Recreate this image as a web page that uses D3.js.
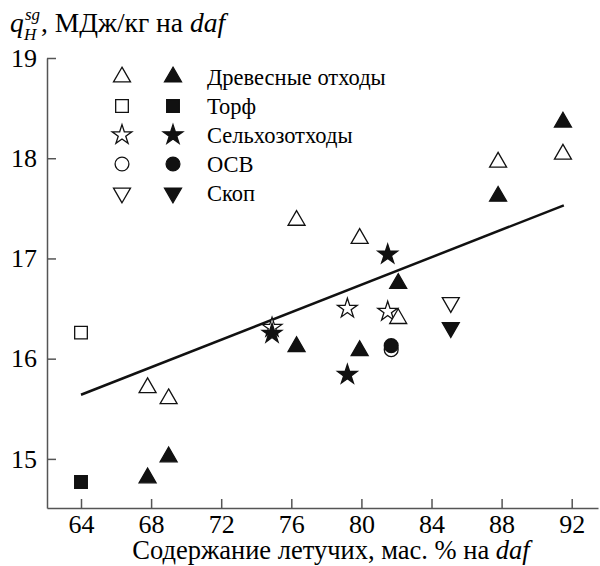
<!DOCTYPE html>
<html>
<head>
	<meta charset="utf-8">
	<title>q_H^sg vs volatiles</title>
	<style>
		body { margin: 0; background: #fff; }
	</style>
</head>
<body>
	<script src="https://cdn.jsdelivr.net/npm/d3@7"></script>
	<script>

		// legend names, in legend order
		const categories = ["Древесные отходы", "Торф", "Сельхозотходы", "ОСВ", "Скоп"];

		// [volatiles %, q]; open and filled markers per category
		const woodOpen = [[67.8, 15.71], [69.0, 15.6], [76.3, 17.38], [79.9, 17.2], [82.1, 16.4], [87.8, 17.96], [91.5, 18.04]];
		const woodFilled = [[67.8, 14.81], [69.0, 15.02], [76.3, 16.12], [79.9, 16.08], [82.1, 16.75], [87.8, 17.62], [91.5, 18.36]];
		const peatOpen = [[64.0, 16.26]];
		const peatFilled = [[64.0, 14.77]];
		const agriOpen = [[74.9, 16.31], [79.2, 16.5], [81.5, 16.47]];
		const agriFilled = [[74.9, 16.25], [81.5, 17.04], [79.2, 15.84]];
		const osvOpen = [[81.7, 16.09]];
		const osvFilled = [[81.7, 16.13]];
		const skopOpen = [[85.1, 16.56]];
		const skopFilled = [[85.1, 16.31]];

		// fitted line end points
		const trend = [[64.0, 15.64], [91.55, 17.53]];

		const xTicks = [64, 68, 72, 76, 80, 84, 88, 92];
		const yTicks = [15, 16, 17, 18, 19];

		const width = 600, height = 566;
		const FONT = "Liberation Serif";

		const svg = d3.select("body").append("svg")
			.attr("width", width)
			.attr("height", height)
			.attr("font-family", FONT);

		const x = d3.scaleLinear().domain([62.06, 93.5]).range([47, 598]);
		const y = d3.scaleLinear().domain([14.51, 19]).range([508, 58]);

		const axisColor = "#555";

		const gx = svg.append("g")
			.attr("transform", `translate(0,${y(14.51)})`)
			.call(d3.axisBottom(x).tickValues(xTicks).tickFormat(d3.format("d"))
				.tickSize(-9).tickSizeOuter(0).tickPadding(7));
		const gy = svg.append("g")
			.attr("transform", `translate(${x(62.06)},0)`)
			.call(d3.axisLeft(y).tickValues(yTicks).tickFormat(d3.format("d"))
				.tickSize(-9).tickSizeOuter(0).tickPadding(10));

		[gx, gy].forEach(g => {
			g.attr("font-family", FONT).attr("font-size", 26);
			g.selectAll("path, line").attr("stroke", axisColor).attr("stroke-width", 1.5);
			g.selectAll("text").attr("fill", "#000");
		});

		// symbols
		const tri = d3.symbol().type(d3.symbolTriangle).size(125);
		const sq = d3.symbol().type(d3.symbolSquare).size(160);
		const star = d3.symbol().type(d3.symbolStar).size(120);
		const circ = d3.symbol().type(d3.symbolCircle).size(150);

		const shapes = [
			{ path: tri(), rot: 0 },
			{ path: sq(), rot: 0 },
			{ path: star(), rot: 0 },
			{ path: circ(), rot: 0 },
			{ path: tri(), rot: 180 }
		];

		function drawMarks(data, shape, filled) {
			svg.append("g").selectAll("path")
				.data(data)
				.join("path")
				.attr("d", shape.path)
				.attr("transform", d => `translate(${x(d[0])},${y(d[1])}) rotate(${shape.rot})`)
				.attr("fill", filled ? "#111" : "#fff")
				.attr("stroke", "#111")
				.attr("stroke-width", 1.3);
		}

		// trend line
		svg.append("line")
			.attr("x1", x(trend[0][0])).attr("y1", y(trend[0][1]))
			.attr("x2", x(trend[1][0])).attr("y2", y(trend[1][1]))
			.attr("stroke", "#111")
			.attr("stroke-width", 2.5);

		drawMarks(peatOpen, shapes[1], false);
		drawMarks(peatFilled, shapes[1], true);
		drawMarks(osvOpen, shapes[3], false);
		drawMarks(osvFilled, shapes[3], true);
		drawMarks(skopOpen, shapes[4], false);
		drawMarks(skopFilled, shapes[4], true);
		drawMarks(agriOpen, shapes[2], false);
		drawMarks(agriFilled, shapes[2], true);
		drawMarks(woodOpen, shapes[0], false);
		drawMarks(woodFilled, shapes[0], true);

		// legend
		const legend = svg.append("g");
		categories.forEach((name, i) => {
			const ly = 77 + i * 29;
			const s = shapes[i];
			[[122, false], [173, true]].forEach(([lx, filled]) => {
				legend.append("path")
					.attr("d", s.path)
					.attr("transform", `translate(${lx},${ly}) rotate(${s.rot})`)
					.attr("fill", filled ? "#111" : "#fff")
					.attr("stroke", "#111")
					.attr("stroke-width", 1.3);
			});
			legend.append("text")
				.attr("x", 207)
				.attr("y", ly)
				.attr("dy", "0.35em")
				.attr("font-family", FONT)
				.attr("font-size", 22.5)
				.text(name);
		});

		// y title: q with sg above and H below
		const yt = svg.append("text")
			.attr("y", 32)
			.attr("font-family", FONT)
			.attr("font-size", 27.5);
		yt.append("tspan").attr("x", 10).attr("font-style", "italic").text("q");
		yt.append("tspan").attr("x", 25).attr("y", 20).attr("font-style", "italic").attr("font-size", 17).text("sg");
		yt.append("tspan").attr("x", 24).attr("y", 40).attr("font-style", "italic").attr("font-size", 17).text("H");
		yt.append("tspan").attr("x", 41).attr("y", 32).text(", МДж/кг на ");
		yt.append("tspan").attr("font-style", "italic").text("daf");

		// x title
		const xt = svg.append("text")
			.attr("x", 331)
			.attr("y", 559)
			.attr("text-anchor", "middle")
			.attr("font-family", FONT)
			.attr("font-size", 26.5);
		xt.append("tspan").text("Содержание летучих, мас. % на ");
		xt.append("tspan").attr("font-style", "italic").text("daf");

	</script>
</body>
</html>
